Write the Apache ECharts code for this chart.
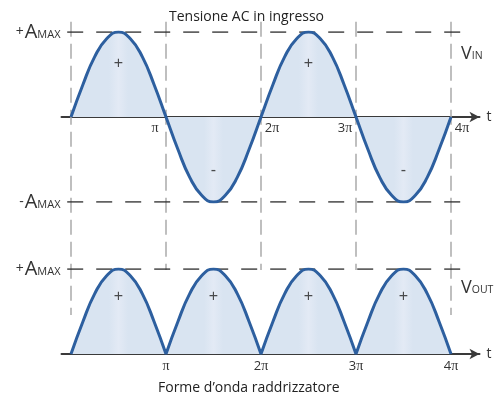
<!DOCTYPE html>
<html>
<head>
<meta charset="utf-8">
<script src="https://cdn.jsdelivr.net/npm/echarts@6/dist/echarts.min.js"></script>
<style>
  html, body { margin: 0; padding: 0; background: #fff; }
  #chart { width: 494px; height: 396px; }
</style>
</head>
<body>
<div id="chart"></div>
<script>
// Time samples, in multiples of π (steps of π/8)
const tSamples = [0, 0.125, 0.25, 0.375, 0.5, 0.625, 0.75, 0.875,
                  1, 1.125, 1.25, 1.375, 1.5, 1.625, 1.75, 1.875,
                  2, 2.125, 2.25, 2.375, 2.5, 2.625, 2.75, 2.875,
                  3, 3.125, 3.25, 3.375, 3.5, 3.625, 3.75, 3.875, 4];

// Input AC voltage, normalised to A_MAX
const vIn = [0, 0.38, 0.71, 0.92, 1, 0.92, 0.71, 0.38,
             0, -0.38, -0.71, -0.92, -1, -0.92, -0.71, -0.38,
             0, 0.38, 0.71, 0.92, 1, 0.92, 0.71, 0.38,
             0, -0.38, -0.71, -0.92, -1, -0.92, -0.71, -0.38, 0];

// Full-wave rectified output, normalised to A_MAX
const vOut = [0, 0.38, 0.71, 0.92, 1, 0.92, 0.71, 0.38,
              0, 0.38, 0.71, 0.92, 1, 0.92, 0.71, 0.38,
              0, 0.38, 0.71, 0.92, 1, 0.92, 0.71, 0.38,
              0, 0.38, 0.71, 0.92, 1, 0.92, 0.71, 0.38, 0];

// Half-cycle polarity marks
const inSigns = ['+', '-', '+', '-'];
const outSigns = ['+', '+', '+', '+'];

// Axis tick multiples of π
const piTicks = [1, 2, 3, 4];

const titleTop = 'Tensione AC in ingresso';
const titleBottom = 'Forme d\u2019onda raddrizzatore';

const LINE = '#2d5f9f';
const FILL = '#d9e4f1';
const FILL_MID = '#e3eaf5';
const TXT = '#333333';
const SANS = 'Open Sans, Liberation Sans, sans-serif';
const SERIF = 'Liberation Serif, DejaVu Serif, serif';

// Input series: plain pairs
const inData = tSamples.map((t, i) => [t, vIn[i]]);
// Output series: break the path at every interior zero so the cusps stay sharp
const outData = [];
tSamples.forEach((t, i) => {
  outData.push([t, vOut[i]]);
  if (vOut[i] === 0 && i > 0 && i < tSamples.length - 1) {
    outData.push([t, '-']);
    outData.push([t, vOut[i]]);
  }
});

// Faint light band at the middle of every half-cycle
function lobeGradient(n) {
  const stops = [{ offset: 0, color: FILL }];
  for (let k = 0; k < n; k++) {
    const c = (k + 0.5) / n;
    stops.push({ offset: c - 0.025, color: FILL });
    stops.push({ offset: c, color: FILL_MID });
    stops.push({ offset: c + 0.025, color: FILL });
  }
  stops.push({ offset: 1, color: FILL });
  return new echarts.graphic.LinearGradient(0, 0, 1, 0, stops);
}

// Vertical guides at every multiple of π, spanning both panels
const guideX = [0, 1, 2, 3, 4];
const guideData = [];
guideX.forEach((x) => {
  const low = (x === 0 || x === 4) ? -2.33 : -1.8;
  guideData.push([x, 1.12], [x, low], [x, '-']);
});

const ampLabel = (sign) => '{p|' + sign + '}{a|A}{s|MAX}';
const ampRich = {
  p: { fontFamily: SANS, fontSize: 14, color: TXT, lineHeight: 20, verticalAlign: 'bottom', padding: [0, 1, 3, 0] },
  a: { fontFamily: SANS, fontSize: 20, color: TXT, lineHeight: 20, verticalAlign: 'bottom' },
  s: { fontFamily: SANS, fontSize: 11, color: TXT, lineHeight: 11, verticalAlign: 'bottom', padding: [0, 0, 2, 0] }
};

const piRich = {
  d: { fontFamily: SANS, fontSize: 13, color: TXT },
  dr: { fontFamily: SANS, fontSize: 13, color: TXT, padding: [0, 0, 0, 22] },
  p: { fontFamily: SERIF, fontSize: 14, color: TXT },
  pl: { fontFamily: SERIF, fontSize: 14, color: TXT, padding: [0, 22, 0, 0] }
};

function topPiLabel(v) {
  const n = v === 1 ? '' : String(v);
  if (v % 2 === 1) return (n ? '{d|' + n + '}' : '') + '{pl|\u03c0}';
  return '{dr|' + n + '}{p|\u03c0}';
}
function bottomPiLabel(v) {
  const n = v === 1 ? '' : String(v);
  return (n ? '{d|' + n + '}' : '') + '{p|\u03c0}';
}

const xCommon = {
  type: 'value', min: -0.1, max: 4.3,
  splitLine: { show: false }, axisTick: { show: false },
  axisLine: { onZero: false, lineStyle: { color: '#3a3a3a', width: 2 }, symbol: ['none', 'arrow'], symbolSize: [8, 10] },
  name: 't', nameLocation: 'end', nameGap: 7,
  nameTextStyle: { fontFamily: SANS, fontSize: 14, color: TXT }
};

const yCommon = {
  type: 'value',
  splitLine: { show: false }, axisTick: { show: false }, axisLine: { show: false }
};

const signSeries = (signs, idx, level) => ({
  type: 'scatter', xAxisIndex: idx, yAxisIndex: idx, z: 5,
  symbolSize: 1, itemStyle: { color: 'rgba(0,0,0,0)' },
  data: signs.map((s, k) => [k + 0.5, s === '-' ? -level : level, s]),
  label: { show: true, position: 'inside', formatter: p => p.value[2],
           fontFamily: 'Liberation Sans, sans-serif', fontSize: 16, color: '#222' }
});

const subTitleRich = {
  v: { fontFamily: SANS, fontSize: 18, fontWeight: 'normal', color: TXT, lineHeight: 18, verticalAlign: 'bottom' },
  s: { fontFamily: SANS, fontSize: 10.5, fontWeight: 'normal', color: TXT, lineHeight: 10, verticalAlign: 'bottom', padding: [0, 0, 1, 0] }
};

const option = {
  animation: false,
  title: [
    { text: titleTop, left: 169, top: 10, padding: 0,
      textStyle: { fontFamily: SANS, fontSize: 14, fontWeight: 'normal', color: '#222' } },
    { text: titleBottom, left: 158, top: 381, padding: 0,
      textStyle: { fontFamily: SANS, fontSize: 14, fontWeight: 'normal', color: '#222' } },
    { text: '{v|V}{s|IN}', left: 461, top: 45, padding: 0, textStyle: { fontWeight: 'normal', rich: subTitleRich } },
    { text: '{v|V}{s|OUT}', left: 461, top: 279, padding: 0, textStyle: { fontWeight: 'normal', rich: subTitleRich } }
  ],
  grid: [
    { left: 61.5, width: 418, top: 32, height: 170 },
    { left: 61.5, width: 418, top: 269, height: 85 }
  ],
  xAxis: [
    // input panel: axis sits on the zero line, half-way up the panel
    Object.assign({}, xCommon, { gridIndex: 0, position: 'bottom', offset: -85,
      axisLabel: { customValues: piTicks, margin: 4, formatter: topPiLabel, rich: piRich } }),
    Object.assign({}, xCommon, { gridIndex: 1, position: 'bottom',
      axisLabel: { customValues: piTicks, margin: 5, formatter: bottomPiLabel, rich: piRich } })
  ],
  yAxis: [
    Object.assign({}, yCommon, { gridIndex: 0, min: -1, max: 1,
      axisLabel: { customValues: [-1, 1], margin: 1,
        formatter: v => ampLabel(v > 0 ? '+' : '-'), rich: ampRich } }),
    Object.assign({}, yCommon, { gridIndex: 1, min: 0, max: 1,
      axisLabel: { customValues: [1], margin: 1,
        formatter: () => ampLabel('+'), rich: ampRich } })
  ],
  series: [
    // grey vertical guides
    { type: 'line', xAxisIndex: 0, yAxisIndex: 0, z: 1, clip: false, symbol: 'none', silent: true,
      data: guideData,
      lineStyle: { color: '#ababab', width: 1.5, type: [15, 7] } },
    // ±A_MAX reference lines, input panel
    { type: 'line', xAxisIndex: 0, yAxisIndex: 0, z: 1, symbol: 'none', silent: true,
      data: [[-0.04, 1], [4.2, 1], [4.2, '-'], [-0.04, -1], [4.2, -1]],
      lineStyle: { color: '#2f2f2f', width: 1.5, type: [16, 13] } },
    // +A_MAX reference line, output panel
    { type: 'line', xAxisIndex: 1, yAxisIndex: 1, z: 1, symbol: 'none', silent: true,
      data: [[-0.04, 1], [4.2, 1]],
      lineStyle: { color: '#2f2f2f', width: 1.5, type: [16, 13] } },
    // input waveform
    { type: 'line', name: 'V_IN', xAxisIndex: 0, yAxisIndex: 0, z: 3, symbol: 'none', smooth: 0.5,
      data: inData,
      lineStyle: { color: LINE, width: 3 },
      areaStyle: { color: lobeGradient(4), opacity: 1 } },
    // rectified waveform
    { type: 'line', name: 'V_OUT', xAxisIndex: 1, yAxisIndex: 1, z: 3, symbol: 'none', smooth: 0.5,
      data: outData,
      lineStyle: { color: LINE, width: 3 },
      areaStyle: { color: lobeGradient(4), opacity: 1 } },
    signSeries(inSigns, 0, 0.63),
    signSeries(outSigns, 1, 0.68)
  ]
};

const chart = echarts.init(document.getElementById('chart'), null, { renderer: 'canvas' });
chart.setOption(option);
</script>
</body>
</html>
